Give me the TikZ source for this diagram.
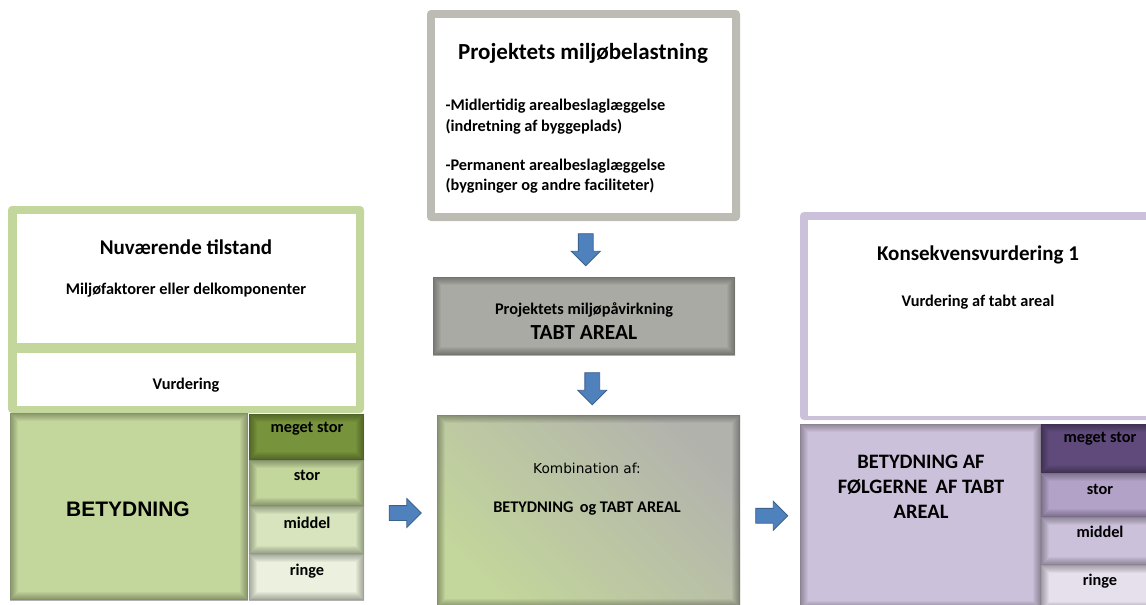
\documentclass[tikz,border=0pt]{standalone}
\usepackage{fontspec}
\setmainfont{Carlito}
\newfontfamily\arialfont{Liberation Sans}
\newfontfamily\verdfont{DejaVu Sans}
\usetikzlibrary{shapes.arrows,calc}

\definecolor{grnframe}{HTML}{C3D69B}
\definecolor{grnvh}{HTML}{77933C}
\definecolor{grnm}{HTML}{D7E4BD}
\definecolor{grnl}{HTML}{EBF1DE}
\definecolor{lilframe}{HTML}{CCC1DA}
\definecolor{lilvh}{HTML}{604A7B}
\definecolor{lilh}{HTML}{B3A2C7}
\definecolor{lill}{HTML}{E6E0EC}
\definecolor{grayframe}{HTML}{BCBCB5}
\definecolor{graybox}{HTML}{AAAAA4}
\definecolor{arrblue}{HTML}{4F81BD}

\tikzset{
  box/.style 2 args={anchor=north west, inner sep=0pt, outer sep=0pt, minimum width=#1pt, minimum height=#2pt},
  inset/.style={path picture={
      \foreach \w in {16,14,12,10,8,6,4,2.5,1.2}
        \draw[black, opacity=.04, line width=\w pt] (path picture bounding box.south west) rectangle (path picture bounding box.north east);}},
  blockarrow/.style={single arrow, fill=arrblue, draw=arrblue!75!black, line width=.8pt, inner sep=7pt,
      minimum height=32pt, minimum width=28pt, single arrow head extend=7pt},
  ttl/.style={font=\bfseries\fontsize{21}{25}\selectfont},
  lbl/.style={font=\bfseries\fontsize{16.3}{19}\selectfont},
}

\begin{document}
\begin{tikzpicture}[x=1pt, y=-1pt]
        \useasboundingbox (0,0) rectangle (1146,605);
        \clip (0,0) rectangle (1146,605);

        % nuvaerende tilstand
        \node[box={356}{207}, fill=grnframe, rounded corners=4pt] (nowframe) at (8,206) {};
        \node[box={339}{129}, fill=white] (nowtop) at (17,214) {};
        \node[box={339}{53}, fill=white] (nowvur) at (17,353) {};
        \node[box={238}{187}, fill=grnframe, inset] (nowbet) at (10,413) {};
        \node[box={115}{46}, fill=grnvh, inset] (g1) at (249,414) {};
        \node[box={115}{46}, fill=grnframe, inset] (g2) at (249,460) {};
        \node[box={115}{48}, fill=grnm, inset] (g3) at (249,506) {};
        \node[box={115}{46}, fill=grnl, inset] (g4) at (249,554) {};

        \node[ttl] (nowttl) at (186,247) {Nuværende tilstand};
        \node[lbl] (nowsub) at (186,290) {Miljøfaktorer eller delkomponenter};
        \node[lbl] (nowvurtxt) at (186,385) {Vurdering};
        \node[font=\arialfont\bfseries\fontsize{21}{24}\selectfont] (nowbettxt) at (128,509) {BETYDNING};
        \node[lbl] (g1txt) at (307,429) {meget stor};
        \node[lbl] (g2txt) at (307,475) {stor};
        \node[lbl] (g3txt) at (307,523) {middel};
        \node[lbl] (g4txt) at (307,571) {ringe};

        % projektets miljoebelastning
        \node[box={313}{211}, fill=grayframe, rounded corners=4pt] (loadframe) at (427,10) {};
        \node[box={297}{195}, fill=white] (loadin) at (435,18) {};
        \node[font=\bfseries\fontsize{23}{27}\selectfont] (loadttl) at (583,53) {Projektets miljøbelastning};
        \node[lbl, anchor=west] (load1) at (442,106) {-Midlertidig arealbeslaglæggelse};
        \node[lbl, anchor=west] (load2) at (442,127) {(indretning af byggeplads)};
        \node[lbl, anchor=west] (load3) at (442,166) {-Permanent arealbeslaglæggelse};
        \node[lbl, anchor=west] (load4) at (442,186) {(bygninger og andre faciliteter)};

        \node[box={302}{78}, fill=graybox, inset] (impact) at (433,277) {};
        \node[lbl] (impact1) at (584,310) {Projektets miljøpåvirkning};
        \node[font=\bfseries\fontsize{21.5}{25}\selectfont] (impact2) at (584,333) {TABT AREAL};

        \node[box={303}{192}, top color=graybox!90!white, bottom color=grnframe, shading angle=-45, inset] (combo) at (437,415) {};
        \node[font=\verdfont\fontsize{13.7}{16}\selectfont] (combo1) at (587,468) {Kombination af:};
        \node[lbl] (combo2) at (587,509) {BETYDNING\, og TABT AREAL};

        % konsekvensvurdering
        \node[box={360}{208}, fill=lilframe, rounded corners=4pt] (consframe) at (800,212) {};
        \node[box={350}{196}, fill=white] (constop) at (808,220) {};
        \node[box={241}{185}, fill=lilframe, inset] (consbet) at (800,424) {};
        \node[box={120}{49}, fill=lilvh, inset] (p1) at (1041,424) {};
        \node[box={120}{44}, fill=lilh, inset] (p2) at (1041,473) {};
        \node[box={120}{48}, fill=lilframe, inset] (p3) at (1041,517) {};
        \node[box={120}{45}, fill=lill, inset] (p4) at (1041,565) {};

        \node[ttl] (consttl) at (978,255) {Konsekvensvurdering 1};
        \node[lbl] (conssub) at (978,302) {Vurdering af tabt areal};
        \node[font=\bfseries\fontsize{20.5}{25}\selectfont, align=center] (consbettxt) at (921,487) {BETYDNING AF\\FØLGERNE\, AF TABT\\AREAL};
        \node[lbl] (p1txt) at (1100,439) {meget stor};
        \node[lbl] (p2txt) at (1100,489) {stor};
        \node[lbl] (p3txt) at (1100,532) {middel};
        \node[lbl] (p4txt) at (1100,581) {ringe};

        % pile
        \node[blockarrow, shape border rotate=270] (dn1) at ($(loadframe.south)!.5!(impact.north)+(2,-3)$) {};
        \node[blockarrow, shape border rotate=270] (dn2) at ($(impact.south)!.5!(combo.north)+(6,0)$) {};
        \node[blockarrow] (rt1) at ($(nowframe.east |- combo.west)!.5!(combo.west)+(1,2)$) {};
        \node[blockarrow] (rt2) at ($(combo.east)!.5!(consbet.west)+(-2,2)$) {};
\end{tikzpicture}
\end{document}
